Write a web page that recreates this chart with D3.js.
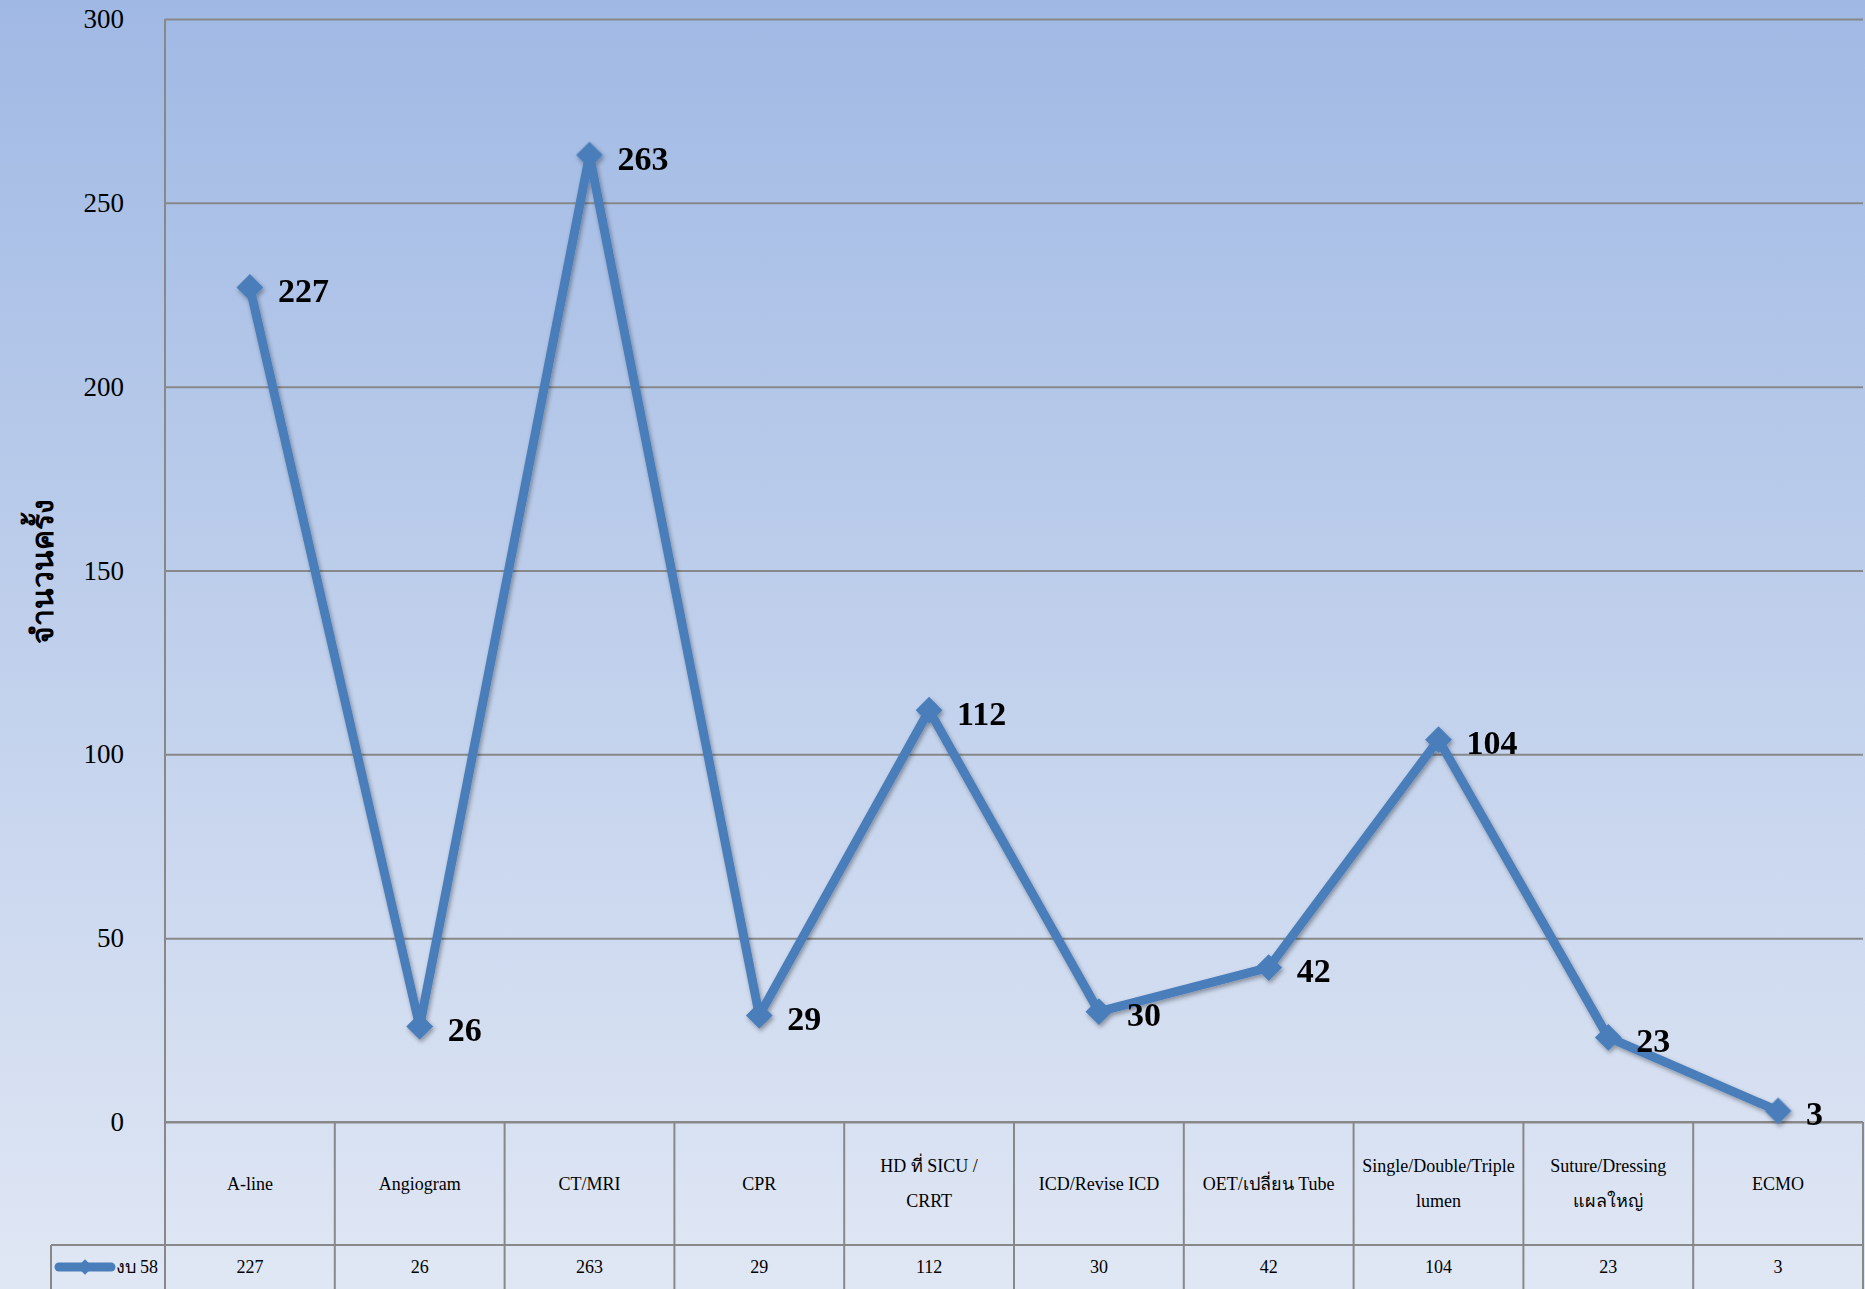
<!DOCTYPE html>
<html><head><meta charset="utf-8">
<script src="https://cdn.jsdelivr.net/npm/d3@7"></script>
<style>html,body{margin:0;padding:0;overflow:hidden;background:#dfe6f4}</style>
</head><body>
<svg id="chart" width="1865" height="1289"></svg>
<script>
const categories = ["A-line","Angiogram","CT/MRI","CPR","HD ที่  SICU /\nCRRT","ICD/Revise ICD","OET/เปลี่ยน Tube","Single/Double/Triple\nlumen","Suture/Dressing\nแผลใหญ่","ECMO"];
const seriesName = "งบ 58";
const values = [227,26,263,29,112,30,42,104,23,3];
const yTicks = [0,50,100,150,200,250,300];
const yTitle = "จำนวนครั้ง";

(function(){
const W = 1865, H = 1289;
const pLeft = 165, pRight = 1863, pTop = 19, pBottom = 1122;
const headerBottom = 1245, legendLeft = 51;
const FONT = "'Liberation Serif','Times New Roman',serif";
const lineColor = "#4a7ebb", gridColor = "#888888";

const svg = d3.select("#chart");
const defs = svg.append("defs");
const grad = defs.append("linearGradient").attr("id","bg").attr("x1",0).attr("y1",0).attr("x2",0).attr("y2",1);
grad.append("stop").attr("offset","0%").attr("stop-color","#a0b9e4");
grad.append("stop").attr("offset","50%").attr("stop-color","#c0d0ec");
grad.append("stop").attr("offset","100%").attr("stop-color","#e0e7f4");
const sh = defs.append("filter").attr("id","shadow").attr("x","-20%").attr("y","-20%").attr("width","140%").attr("height","140%");
sh.append("feDropShadow").attr("dx",1.5).attr("dy",2.5).attr("stdDeviation",2).attr("flood-color","#000").attr("flood-opacity",0.35);

svg.append("rect").attr("width",W).attr("height",H).attr("fill","url(#bg)");

const x = d3.scaleBand().domain(categories).range([pLeft,pRight]).padding(0);
const y = d3.scaleLinear().domain([0,300]).range([pBottom,pTop]);

const yAxis = d3.axisLeft(y).tickValues(yTicks).tickSize(-(pRight-pLeft)).tickPadding(41).tickFormat(d3.format("d"));
const gy = svg.append("g").attr("transform",`translate(${pLeft},0)`).call(yAxis);
gy.select(".domain").remove();
gy.selectAll(".tick line").attr("stroke",gridColor).attr("stroke-width",2);
gy.selectAll(".tick text").attr("font-family",FONT).attr("font-size",27).attr("fill","#000");
svg.append("line").attr("x1",pLeft).attr("x2",pLeft).attr("y1",pTop).attr("y2",H).attr("stroke",gridColor).attr("stroke-width",2);

svg.append("text").attr("transform",`translate(42,571) rotate(-90)`).attr("text-anchor","middle")
  .attr("dominant-baseline","central").attr("font-family",FONT).attr("font-weight","bold").attr("font-size",30).text(yTitle);

const tg = svg.append("g").attr("stroke",gridColor).attr("stroke-width",2);
tg.append("line").attr("x1",pLeft).attr("x2",pRight).attr("y1",pBottom).attr("y2",pBottom);
tg.append("line").attr("x1",legendLeft).attr("x2",pRight).attr("y1",headerBottom).attr("y2",headerBottom);
tg.append("line").attr("x1",legendLeft).attr("x2",legendLeft).attr("y1",headerBottom).attr("y2",H);
categories.forEach(c => {
  tg.append("line").attr("x1",x(c)+x.bandwidth()).attr("x2",x(c)+x.bandwidth()).attr("y1",pBottom).attr("y2",H);
});
categories.forEach(c => {
  const lines = c.split("\n");
  const cy = (pBottom+headerBottom)/2;
  const lh = 35;
  lines.forEach((ln,i) => {
    svg.append("text").attr("x",x(c)+x.bandwidth()/2).attr("y",cy + (i-(lines.length-1)/2)*lh)
      .attr("text-anchor","middle").attr("dominant-baseline","central")
      .attr("font-family",FONT).attr("font-size",18).attr("fill","#000").text(ln);
  });
});
categories.forEach((c,i) => {
  svg.append("text").attr("x",x(c)+x.bandwidth()/2).attr("y",1267)
    .attr("text-anchor","middle").attr("dominant-baseline","central")
    .attr("font-family",FONT).attr("font-size",18).attr("fill","#000").text(values[i]);
});
svg.append("line").attr("x1",59).attr("x2",111).attr("y1",1267).attr("y2",1267)
  .attr("stroke",lineColor).attr("stroke-width",9).attr("stroke-linecap","round");
svg.append("path").attr("d",d3.symbol().type(d3.symbolSquare).size(120)).attr("transform","translate(85,1267) rotate(45)").attr("fill",lineColor);
svg.append("text").attr("x",158).attr("y",1267).attr("text-anchor","end").attr("dominant-baseline","central")
  .attr("font-family",FONT).attr("font-size",18).attr("fill","#000").text(seriesName);

const cx = c => x(c)+x.bandwidth()/2;
const line = d3.line().x((d,i)=>cx(categories[i])).y(d=>y(d));
const sg = svg.append("g").attr("filter","url(#shadow)");
sg.append("path").datum(values).attr("d",line).attr("fill","none").attr("stroke",lineColor)
  .attr("stroke-width",9).attr("stroke-linejoin","round");
sg.selectAll("path.mk").data(values).enter().append("path").attr("class","mk")
  .attr("d",d3.symbol().type(d3.symbolSquare).size(360))
  .attr("transform",(d,i)=>`translate(${cx(categories[i])},${y(d)}) rotate(45)`)
  .attr("fill",lineColor);

svg.selectAll("text.lbl").data(values).enter().append("text").attr("class","lbl")
  .attr("x",(d,i)=>cx(categories[i])+28).attr("y",d=>y(d)+3)
  .attr("dominant-baseline","central").attr("font-family",FONT).attr("font-weight","bold")
  .attr("font-size",34).attr("fill","#000").text(d=>d);
})();
</script>
</body></html>
